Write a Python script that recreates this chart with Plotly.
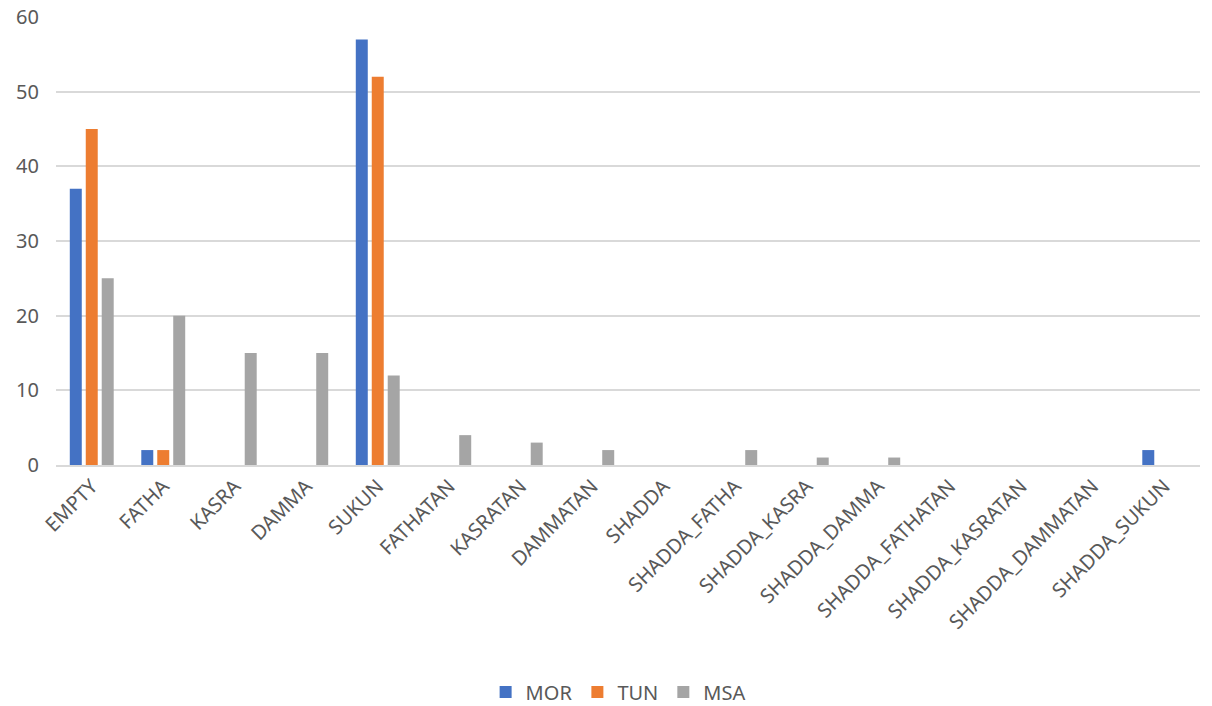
import plotly.graph_objects as go

categories = ["EMPTY", "FATHA", "KASRA", "DAMMA", "SUKUN", "FATHATAN", "KASRATAN",
              "DAMMATAN", "SHADDA", "SHADDA_FATHA", "SHADDA_KASRA", "SHADDA_DAMMA",
              "SHADDA_FATHATAN", "SHADDA_KASRATAN", "SHADDA_DAMMATAN", "SHADDA_SUKUN"]
mor = [37, 2, 0, 0, 57, 0, 0, 0, 0, 0, 0, 0, 0, 0, 0, 2]
tun = [45, 2, 0, 0, 52, 0, 0, 0, 0, 0, 0, 0, 0, 0, 0, 0]
msa = [25, 20, 15, 15, 12, 4, 3, 2, 0, 2, 1, 1, 0, 0, 0, 0]

series = [("MOR", mor, "#4472C4"), ("TUN", tun, "#ED7D31"), ("MSA", msa, "#A5A5A5")]

fig = go.Figure()
for name, vals, color in series:
    fig.add_trace(go.Bar(x=categories, y=vals, name=name, marker_color=color,
                         marker_line_width=0))

font_family = "Noto Sans, Open Sans, sans-serif"
fig.update_layout(
    width=1212, height=706,
    margin=dict(l=56, r=12, t=17, b=241, autoexpand=False),
    plot_bgcolor="white", paper_bgcolor="white",
    barmode="group", bargap=0.33, bargroupgap=0.25,
    font=dict(family=font_family, color="#595959"),
    legend=dict(orientation="h", x=0.51, xanchor="center", xref="container",
                y=0.02, yanchor="middle", yref="container",
                font=dict(size=20, color="#595959"),
                traceorder="normal"),
    showlegend=True,
)
fig.update_yaxes(range=[0, 60], dtick=10, showgrid=True, gridcolor="#d9d9d9", gridwidth=1.5,
                 zeroline=False, showline=False, tickfont=dict(size=20, color="#595959"),
                 ticks="outside", ticklen=12, tickcolor="rgba(0,0,0,0)", automargin=False)
fig.update_xaxes(tickangle=-45, tickfont=dict(size=20, color="#595959"),
                 showline=True, linecolor="#d9d9d9", linewidth=1.5, ticks="",
                 automargin=False)
fig.write_html("out.html")
